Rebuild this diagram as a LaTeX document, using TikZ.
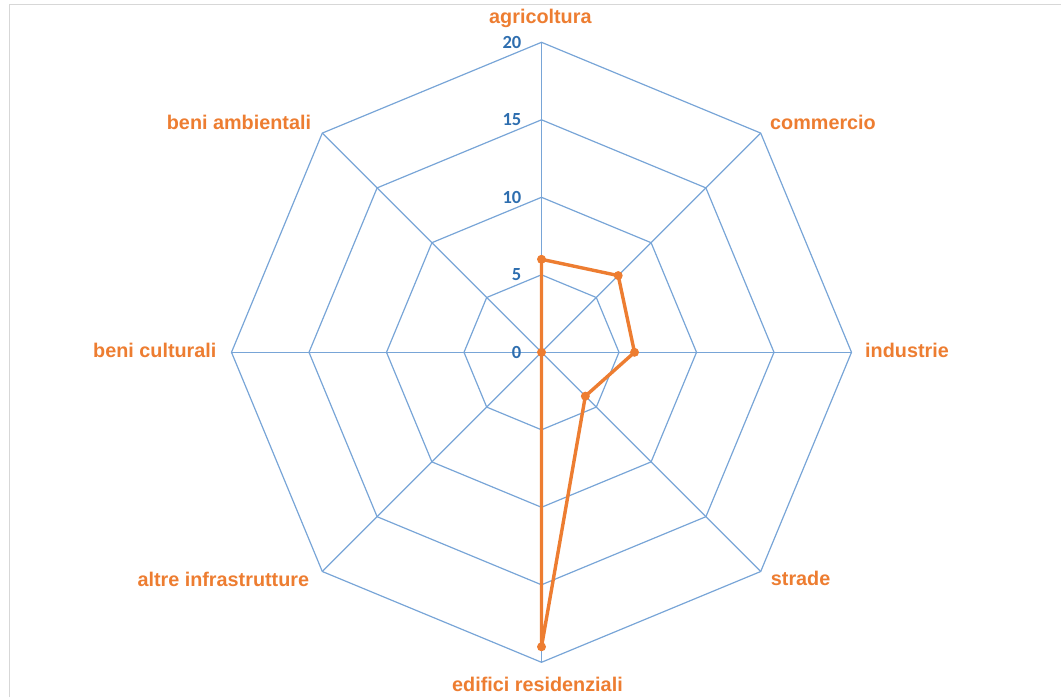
\documentclass[tikz,border=0pt]{standalone}
\usepackage{fontspec}
\setmainfont{Liberation Sans}
\newfontfamily\numfont{Carlito}
\usetikzlibrary{calc}
\definecolor{gridblue}{RGB}{120,165,215}
\definecolor{numblue}{RGB}{46,110,175}
\definecolor{dataorange}{RGB}{237,125,49}
\definecolor{framegray}{RGB}{215,215,215}
\tikzset{
  gridline/.style={draw=gridblue, line width=1.2pt},
  catlabel/.style={font=\fontsize{19.8}{24}\selectfont\bfseries, text=dataorange, inner sep=0pt, anchor=base west},
  numlabel/.style={font=\numfont\fontsize{18.5}{21}\selectfont\bfseries, text=numblue, inner sep=0pt, anchor=east},
  dataline/.style={draw=dataorange, line width=3.4pt, line join=round},
  datadot/.style={circle, fill=dataorange, inner sep=0pt, minimum size=9pt},
}
\begin{document}
\begin{tikzpicture}[x=1pt,y=1pt]
\useasboundingbox (0,0) rectangle (1061,697);
\draw[framegray, line width=1.2pt] (9.5,0) -- (9.5,692.5) -- (1061,692.5);
\coordinate (O) at (541.5,344.7);
% rings
\foreach \r in {77.5,155,232.5,310}{
  \draw[gridline] ($(O)+(90:\r)$)
    \foreach \a in {45,0,-45,-90,-135,180,135}{ -- ($(O)+(\a:\r)$) } -- cycle;
}
% spokes
\foreach \a/\n in {90/agr,45/com,0/ind,-45/str,-90/edi,-135/alt,180/cul,135/amb}{
  \coordinate (v\n) at ($(O)+(\a:310)$);
  \draw[gridline] (O) -- (v\n);
}
% scale labels
\foreach \v in {0,5,10,15,20}{
  \node[numlabel] (n\v) at ($(O)+(-20,{15.5*\v})$) {\v};
}
% category labels
\node[catlabel] (lagr) at (489,673.7) {agricoltura};
\node[catlabel] (lcom) at (770,567.7) {commercio};
\node[catlabel] (lind) at (865,339.7) {industrie};
\node[catlabel] (lstr) at (770.7,111.3) {strade};
\node[catlabel] (ledi) at (452,5.3) {edifici residenziali};
\node[catlabel] (lalt) at (137.3,110.3) {altre infrastrutture};
\node[catlabel] (lcul) at (93,339.7) {beni culturali};
\node[catlabel] (lamb) at (166.7,567) {beni ambientali};
% data
\coordinate (dagr) at ($(O)+(90:{15.5*6})$);
\coordinate (dcom) at ($(O)+(45:{15.5*7})$);
\coordinate (dind) at ($(O)+(0:{15.5*6})$);
\coordinate (dstr) at ($(O)+(-45:{15.5*4})$);
\coordinate (dedi) at ($(O)+(-90:{15.5*19})$);
\draw[dataline] (dagr) -- (dcom) -- (dind) -- (dstr) -- (dedi) -- (O) -- cycle;
\foreach \p in {dagr,dcom,dind,dstr,dedi}{
  \node[datadot] at (\p) {};
}
\node[datadot] (dz) at (O) {};
\end{tikzpicture}
\end{document}
